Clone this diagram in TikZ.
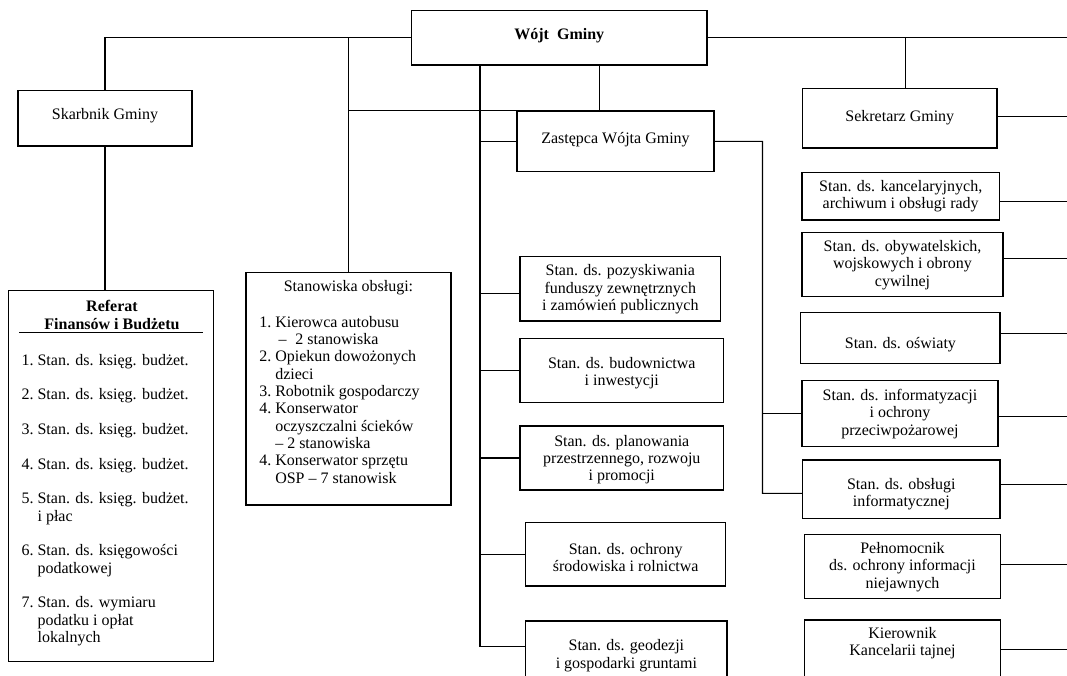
\documentclass[tikz,border=0pt]{standalone}
\usepackage{fontspec}
\setmainfont{Liberation Serif}
\usetikzlibrary{fit}
\begin{document}
\begin{tikzpicture}[x=0.75pt,y=-0.75pt,
  box/.style={draw, line width=0.8pt, inner sep=0pt},
  txt/.style={align=center, font=\fontsize{12}{13}\selectfont, inner sep=0pt},
  btxt/.style={align=center, font=\fontsize{12}{13}\selectfont\bfseries, inner sep=0pt},
  conn/.style={line width=0.8pt}]
\useasboundingbox (0,0) rectangle (1067,675);
\clip (0,0) rectangle (1067,675);

% ---------- boxes ----------
\node[box, fit={(411.5,10.7)(707,65)}] (wojt) {};
\node[box, fit={(18,90.3)(192,146)}] (skarb) {};
\node[box, fit={(8.6,290.7)(213.5,661.7)}] (refer) {};
\node[box, fit={(246,272.7)(451,505)}] (stan) {};
\node[box, fit={(517,111)(714,171.7)}] (zast) {};
\node[box, fit={(802.6,88.3)(997,148)}] (sekr) {};
\node[box, fit={(802,172.3)(999.4,220)}] (kanc) {};
\node[box, fit={(802,232.3)(1003,296.7)}] (obyw) {};
\node[box, fit={(800.7,312.3)(1000,363.3)}] (oswi) {};
\node[box, fit={(802,380.7)(998,446.7)}] (info) {};
\node[box, fit={(802.6,460)(1000,518.3)}] (obsl) {};
\node[box, fit={(804.5,534.3)(1000.4,598.3)}] (pelno) {};
\node[box, fit={(804.5,620)(1000.4,700)}] (kier) {};
\node[box, fit={(520,256.7)(720.5,321)}] (pozy) {};
\node[box, fit={(520,338.3)(723.6,402.3)}] (budo) {};
\node[box, fit={(520,426)(723.6,490)}] (plan) {};
\node[box, fit={(525.8,522.7)(725.6,586)}] (ochr) {};
\node[box, fit={(525.8,621)(727,700)}] (geod) {};

% ---------- texts ----------
\node[btxt] (wojt-t) at (559.3,36) {Wójt\ \ Gminy};
\node[txt] (skarb-t) at (105,116) {Skarbnik Gminy};
\node[txt] (sekr-t) at (899.8,117.3) {Sekretarz Gminy};
\node[txt] (zast-t) at (615.5,140) {Zastępca Wójta Gminy};
\node[txt] (kanc-t) at (900.7,196) {Stan. ds. kancelaryjnych,\\archiwum i obsługi rady};
\node[txt] (obyw-t) at (902.5,264.9) {Stan. ds. obywatelskich,\\wojskowych i obrony\\cywilnej};
\node[txt] (oswi-t) at (900.4,345) {Stan. ds. oświaty};
\node[txt] (info-t) at (900,413.9) {Stan. ds. informatyzacji\\i ochrony\\przeciwpożarowej};
\node[txt] (obsl-t) at (901.3,494.5) {Stan. ds. obsługi\\informatycznej};
\node[txt] (pelno-t) at (902.5,567) {Pełnomocnik\\ds. ochrony informacji\\niejawnych};
\node[txt] (kier-t) at (902.5,643) {Kierownik\\Kancelarii tajnej};
\node[txt] (pozy-t) at (620.3,289.2) {Stan. ds. pozyskiwania\\funduszy zewnętrznych\\i zamówień publicznych};
\node[txt] (budo-t) at (621.8,372.9) {Stan. ds. budownictwa\\i inwestycji};
\node[txt] (plan-t) at (621.8,459.6) {Stan. ds. planowania\\przestrzennego, rozwoju\\i promocji};
\node[txt] (ochr-t) at (625.7,557.2) {Stan. ds. ochrony\\środowiska i rolnictwa};
\node[txt] (geod-t) at (626.4,655.5) {Stan. ds. geodezji\\i gospodarki gruntami};

% Referat
\node[btxt] (refer-h) at (112,315) {Referat\\Finansów i Budżetu};
\draw[conn] (19,332.7) -- (203,332.7);
\node[txt, anchor=base west, align=left] (refer-l) at (21.3,365.3) {%
\begin{tabular}[t]{@{}l@{\ }l@{}}
1. & Stan. ds. księg. budżet.\\[13pt]
2. & Stan. ds. księg. budżet.\\[13pt]
3. & Stan. ds. księg. budżet.\\[13pt]
4. & Stan. ds. księg. budżet.\\[13pt]
5. & Stan. ds. księg. budżet.\\
   & i płac\\[13pt]
6. & Stan. ds. księgowości\\
   & podatkowej\\[13pt]
7. & Stan. ds. wymiaru\\
   & podatku i opłat\\
   & lokalnych
\end{tabular}};

% Stanowiska obslugi
\node[txt] (stan-h) at (348.5,288) {Stanowiska obsługi:};
\node[txt, anchor=base west, align=left] (stan-l) at (259,327) {%
\begin{tabular}[t]{@{}l@{\ }l@{}}
1. & Kierowca autobusu\\
   & \hspace{2.6pt}–\hspace{6.5pt}2 stanowiska\\
2. & Opiekun dowożonych\\
   & dzieci\\
3. & Robotnik gospodarczy\\
4. & Konserwator\\
   & oczyszczalni ścieków\\
   & – 2 stanowiska\\
4. & Konserwator sprzętu\\
   & OSP – 7 stanowisk
\end{tabular}};

% ---------- connectors ----------
\coordinate (mtop) at (480,65);
\coordinate (rv) at (762.5,141.3);
\coordinate (redge) at (1067,0);

\draw[conn] (wojt.west) -| (skarb.north);
\draw[conn] (stan.north) -- (stan.north |- wojt.west);
\draw[conn] (skarb.south) -- (skarb.south |- refer.north);
\draw[conn] (stan.north |- zast.north west) -- (zast.north west);

% middle column
\coordinate (geodc) at ([yshift=-19.3pt]geod.north west);
\coordinate (pozyc) at ([yshift=-3.3pt]pozy.west);
\draw[conn] (mtop) |- (geodc);
\draw[conn] (zast.west) -- (zast.west -| mtop);
\draw[conn] (pozyc) -- (pozyc -| mtop);
\draw[conn] (budo.west) -- (budo.west -| mtop);
\draw[conn] (plan.west) -- (plan.west -| mtop);
\draw[conn] (ochr.west) -- (ochr.west -| mtop);

% Wojt -> Zastepca
\coordinate (zastn) at ([xshift=-11.9pt]zast.north);
\draw[conn] (zastn) -- (zastn |- wojt.south);

% Zastepca -> right sub-column
\coordinate (obslc) at ([yshift=-3.1pt]obsl.west);
\draw[conn] (zast.east) -- (rv) |- (obslc);
\draw[conn] (info.west) -- (info.west -| rv);

% top right
\draw[conn] (wojt.east) -- (wojt.east -| redge);
\coordinate (sekrn) at ([xshift=4.6pt]sekr.north);
\draw[conn] (sekrn) -- (sekrn |- wojt.east);

% right column lines to the edge
\foreach \b/\s in {sekr/1.4,kanc/-4.35,obyw/4.35,oswi/3.4,info/-2.25,obsl/3.2,pelno/1.7}{
  \draw[conn] ([yshift=\s pt]\b.east) coordinate (tmp) -- (tmp -| redge);
}
\coordinate (kierc) at ([yshift=-22.5pt]kier.north east);
\draw[conn] (kierc) -- (kierc -| redge);
\end{tikzpicture}
\end{document}
